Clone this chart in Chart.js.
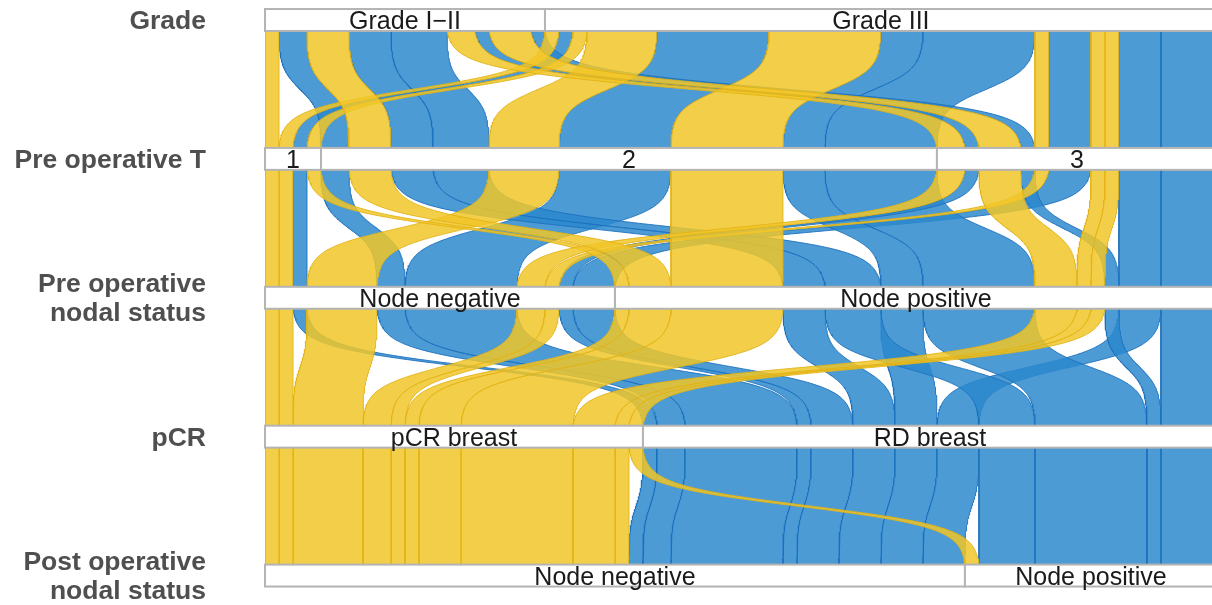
<!DOCTYPE html>
<html>
<head>
<meta charset="utf-8">
<title>Parallel sets</title>
<script src="https://cdn.jsdelivr.net/npm/chart.js@4.4.1/dist/chart.umd.min.js"></script>
<style>
  html, body { margin: 0; padding: 0; background: #fff; overflow: hidden; }
  #wrap { width: 1212px; height: 605px; position: relative; }
</style>
</head>
<body>
<div id="wrap"><canvas id="sets"></canvas></div>
<script>
// axes from top to bottom
const axisTitles = [['Grade'], ['Pre operative T'], ['Pre operative', 'nodal status'], ['pCR'], ['Post operative', 'nodal status']];
const gradeLevels = ['Grade I\u2212II', 'Grade III'];
const tLevels = ['1', '2', '3'];
const preNodeLevels = ['Node negative', 'Node positive'];
const pcrLevels = ['pCR breast', 'RD breast'];
const postNodeLevels = ['Node negative', 'Node positive'];

// one entry per patient group: level index on every axis, and group size
const grade    = [0,0,0,0,0,0,0,0,0, 1,1,1,1,1,1,1,1,1,1,1,1,1,1];
const preT     = [0,1,1,1,1,2,2,2,2, 0,0,0,1,1,1,1,1,2,2,2,2,2,2];
const preNode  = [0,0,1,1,1,0,0,1,1, 0,0,1,0,0,1,1,1,0,0,1,1,1,1];
const pcr      = [0,1,0,1,1,0,1,0,1, 0,1,0,0,1,0,1,1,0,1,0,0,1,1];
const postNode = [0,0,0,0,1,0,0,0,1, 0,0,0,0,0,0,0,1,0,0,0,1,0,1];
const patients = [1,2,3,3,4,2,1,3,1, 1,1,1,5,8,8,3,8,1,3,1,1,3,4];

const vars = [grade, preT, preNode, pcr, postNode];
const levels = [gradeLevels, tLevels, preNodeLevels, pcrLevels, postNodeLevels];

const fillColors = ['rgba(241,199,41,0.85)', 'rgba(45,138,206,0.85)'];
const edgeColors = ['rgba(226,178,22,0.9)', 'rgba(28,112,190,0.9)'];

// inside a level, strands are stacked by neighbouring axes first
function tieOrder(k) {
  const keys = [k];
  for (let d = 1; d < vars.length; d++) {
    if (k - d >= 0) keys.push(k - d);
    if (k + d < vars.length) keys.push(k + d);
  }
  return keys;
}

const starts = vars.map((v, k) => {
  const keys = tieOrder(k);
  const order = patients.map((_, i) => i).sort((a, b) => {
    for (const key of keys) {
      const d = vars[key][a] - vars[key][b];
      if (d) return d;
    }
    return a - b;
  });
  const pos = [];
  let acc = 0;
  order.forEach(i => { pos[i] = acc; acc += patients[i]; });
  return pos;
});

const boxHalf = 0.079; // half height of an axis box, in axis units

function ease(t) {
  let u = (t - boxHalf) / (1 - 2 * boxHalf);
  u = Math.min(1, Math.max(0, u));
  const s = 11;
  const lo = 1 / (1 + Math.exp(s / 2));
  return (1 / (1 + Math.exp(-s * (u - 0.5))) - lo) / (1 - 2 * lo);
}

const steps = 140;
const datasets = [];
for (let k = 0; k < vars.length - 1; k++) {
  patients.forEach((n, i) => {
    const x0 = starts[k][i];
    const x1 = starts[k + 1][i];
    const pts = [];
    for (let j = 0; j <= steps; j++) {
      const p = j / steps;
      const t = p + 0.8 * Math.sin(2 * Math.PI * p) / (2 * Math.PI);
      pts.push({ x: x0 + (x1 - x0) * ease(t), y: k + t });
    }
    for (let j = steps; j >= 0; j--) {
      const p = j / steps;
      const t = p + 0.8 * Math.sin(2 * Math.PI * p) / (2 * Math.PI);
      pts.push({ x: x0 + n + (x1 - x0) * ease(t), y: k + t });
    }
    datasets.push({
      data: pts,
      fill: 'shape',
      order: pcr[i], // pCR strands drawn over the RD ones
      backgroundColor: fillColors[pcr[i]],
      borderColor: edgeColors[pcr[i]],
      borderWidth: 1,
      pointRadius: 0,
      pointHitRadius: 0,
      tension: 0
    });
  });
}

const axisBoxes = {
  id: 'axisBoxes',
  afterDatasetsDraw(chart) {
    const { ctx, scales: { x, y } } = chart;
    ctx.save();
    vars.forEach((v, k) => {
      const top = y.getPixelForValue(k - boxHalf);
      const bottom = y.getPixelForValue(k + boxHalf);
      const mid = y.getPixelForValue(k);
      let acc = 0;
      levels[k].forEach((name, l) => {
        const n = patients.reduce((s, c, i) => s + (v[i] === l ? c : 0), 0);
        const left = x.getPixelForValue(acc);
        const right = x.getPixelForValue(acc + n);
        ctx.fillStyle = '#fff';
        ctx.fillRect(left, top, right - left, bottom - top);
        ctx.strokeStyle = '#b4b4b4';
        ctx.lineWidth = 2;
        ctx.strokeRect(left, top, right - left, bottom - top);
        ctx.fillStyle = '#1a1a1a';
        ctx.font = '25px "Liberation Sans", Arial, sans-serif';
        ctx.textAlign = 'center';
        ctx.textBaseline = 'alphabetic';
        ctx.fillText(name, (left + right) / 2, mid + 9);
        acc += n;
      });
      const lines = axisTitles[k];
      ctx.fillStyle = '#4f4f4f';
      ctx.font = 'bold 26.5px "Liberation Sans", Arial, sans-serif';
      ctx.textAlign = 'right';
      lines.forEach((s, j) => {
        ctx.fillText(s, 206, mid + 9 + (j - (lines.length - 1) / 2) * 29);
      });
    });
    ctx.restore();
  }
};

new Chart(document.getElementById('sets'), {
  type: 'line',
  data: { datasets },
  options: {
    indexAxis: 'y',
    animation: false,
    responsive: true,
    maintainAspectRatio: false,
    events: [],
    layout: { padding: { left: 265, right: 0, top: 0, bottom: 0 } },
    scales: {
      // axis boxes run a little past the right edge of the picture
      x: { type: 'linear', min: 0, max: 67.65, display: false },
      y: { type: 'linear', min: -0.144, max: 4.212, reverse: true, display: false }
    },
    plugins: {
      legend: { display: false },
      tooltip: { enabled: false }
    }
  },
  plugins: [axisBoxes]
});
</script>
</body>
</html>
